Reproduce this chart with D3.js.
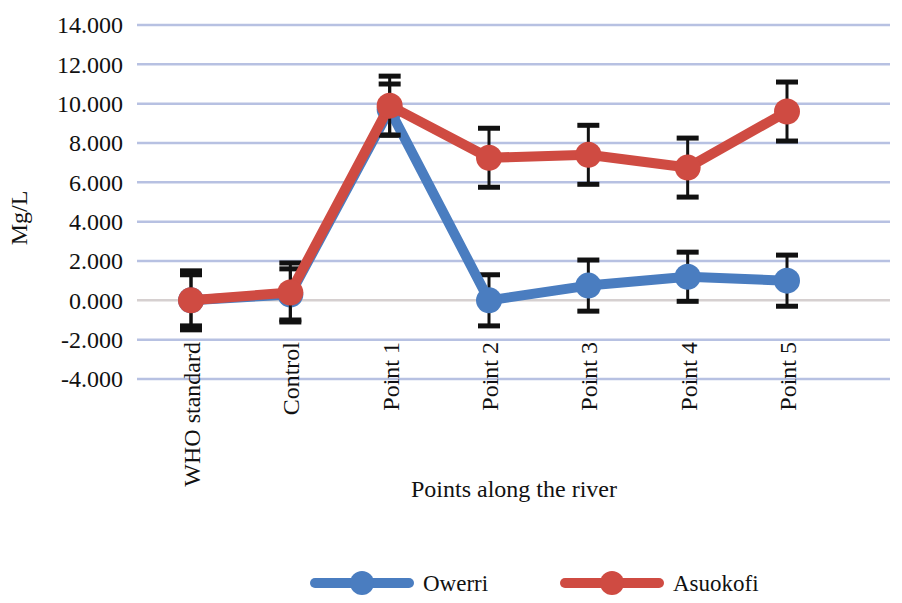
<!DOCTYPE html>
<html><head><meta charset="utf-8">
<script src="https://cdn.jsdelivr.net/npm/d3@7"></script>
<style>body{margin:0;background:#fff}svg{display:block}</style>
</head><body>
<svg id="c" width="902" height="603"></svg>
<script>
const categories = ["WHO standard","Control","Point 1","Point 2","Point 3","Point 4","Point 5"];
const owerri = [0.0, 0.3, 9.7, 0.0, 0.75, 1.2, 1.0];
const owerriErr = [1.3, 1.3, 1.3, 1.3, 1.3, 1.25, 1.3];
const asuokofi = [0.0, 0.4, 9.9, 7.25, 7.4, 6.75, 9.6];
const asuokofiErr = [1.5, 1.5, 1.5, 1.5, 1.5, 1.5, 1.5];
const yTicks = [-4,-2,0,2,4,6,8,10,12,14];
const seriesNames = ["Owerri","Asuokofi"];
const colors = ["#4a7dc0","#cf4b42"];

const svg = d3.select("#c");
const font = "'Liberation Serif','Times New Roman',serif";
const y = d3.scaleLinear().domain([-4,14]).range([379,25]);
const x = d3.scalePoint().domain(categories).range([191,787]);

// gridlines
svg.append("g").selectAll("line").data(yTicks).join("line")
  .attr("x1",137).attr("x2",890)
  .attr("y1",d=>y(d)).attr("y2",d=>y(d))
  .attr("stroke",d=>d===0?"#d6d0d0":"#b7c1e2").attr("stroke-width",2.5);

// y axis
const fmt = d3.format(".3f");
const yAxis = d3.axisLeft(y).tickValues(yTicks).tickFormat(d=>fmt(d).replace("\u2212","-")).tickSize(0).tickPadding(0);
const ga = svg.append("g").attr("transform","translate(123,0)").call(yAxis);
ga.select(".domain").remove();
ga.selectAll("text").attr("font-family",font).attr("font-size",24).attr("fill","#111");

// x axis labels
const xAxis = d3.axisBottom(x).tickSize(0).tickPadding(0);
const gx = svg.append("g").attr("transform","translate(0,342)").call(xAxis);
gx.select(".domain").remove();
gx.selectAll("text").attr("font-family",font).attr("font-size",24).attr("fill","#111")
  .attr("transform","rotate(-90)").attr("text-anchor","end").attr("dy","0.35em").attr("x",0).attr("y",0);

// axis titles
svg.append("text").attr("transform","translate(27,218) rotate(-90)").attr("text-anchor","middle")
  .attr("font-family",font).attr("font-size",24).attr("fill","#111").text("Mg/L");
svg.append("text").attr("x",514).attr("y",497).attr("text-anchor","middle")
  .attr("font-family",font).attr("font-size",24).attr("fill","#111").text("Points along the river");

const series = [owerri, asuokofi];
const errs = [owerriErr, asuokofiErr];
const line = d3.line().x((d,i)=>x(categories[i])).y(d=>y(d));

series.forEach((vals,si)=>{
  const g = svg.append("g");
  vals.forEach((v,i)=>{
    const cx = x(categories[i]), e = errs[si][i];
    g.append("line").attr("x1",cx).attr("x2",cx).attr("y1",y(v+e)).attr("y2",y(v-e))
      .attr("stroke","#111").attr("stroke-width",3);
    [v+e, v-e].forEach(t=>{
      g.append("line").attr("x1",cx-11).attr("x2",cx+11).attr("y1",y(t)).attr("y2",y(t))
        .attr("stroke","#111").attr("stroke-width",5);
    });
  });
  g.append("path").datum(vals).attr("d",line).attr("fill","none")
    .attr("stroke",colors[si]).attr("stroke-width",10).attr("stroke-linejoin","round");
  g.selectAll("circle").data(vals).join("circle")
    .attr("cx",(d,i)=>x(categories[i])).attr("cy",d=>y(d)).attr("r",13).attr("fill",colors[si]);
});

// legend
const legX = [315, 565];
seriesNames.forEach((n,i)=>{
  const lx = legX[i], ly = 583;
  svg.append("line").attr("x1",lx).attr("x2",lx+94).attr("y1",ly).attr("y2",ly)
    .attr("stroke",colors[i]).attr("stroke-width",10).attr("stroke-linecap","round");
  svg.append("circle").attr("cx",lx+47).attr("cy",ly).attr("r",12).attr("fill",colors[i]);
  svg.append("text").attr("x",lx+108).attr("y",ly+8).attr("font-family",font).attr("font-size",23)
    .attr("fill","#111").text(n);
});
</script>
</body></html>
